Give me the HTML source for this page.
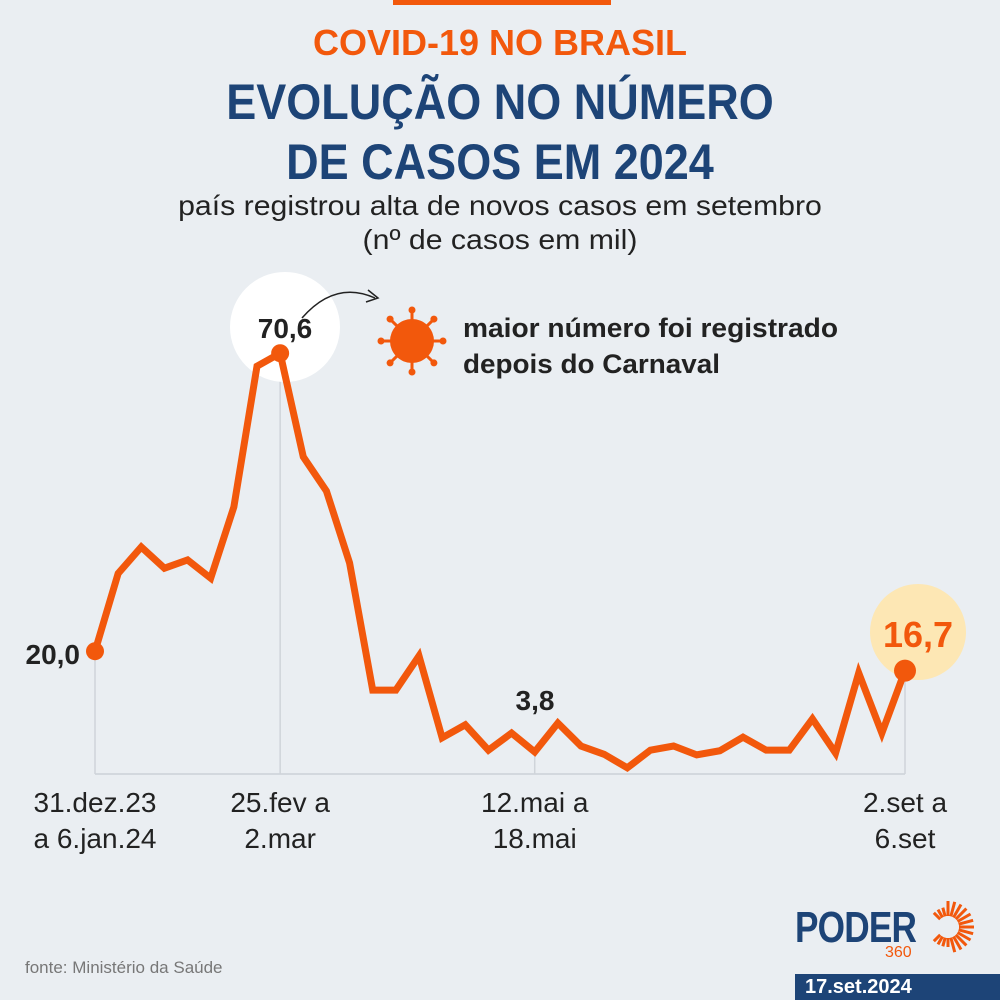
<!DOCTYPE html>
<html><head><meta charset="utf-8"><style>
body{margin:0;width:1000px;height:1000px;background:#eaeef2;font-family:"Liberation Sans",sans-serif;position:relative;overflow:hidden}
.t{position:absolute;left:0;width:1000px;text-align:center}
</style></head><body>
<div style="position:absolute;left:393px;top:0;width:218px;height:5px;background:#f2580c"></div>
<div class="t" style="top:22px;font-size:36px;font-weight:bold;color:#f2580c">COVID-19 NO BRASIL</div>
<div class="t" style="top:72px;font-size:50px;line-height:60px;font-weight:bold;color:#1d4477;transform:scaleX(0.9)">EVOLUÇÃO NO NÚMERO<br>DE CASOS EM 2024</div>
<div class="t" style="top:189px;font-size:28px;line-height:34px;color:#222;transform:scaleX(1.08)">país registrou alta de novos casos em setembro<br>(nº de casos em mil)</div>
<svg id="chart" width="1000" height="1000" style="position:absolute;left:0;top:0"></svg>
<div style="position:absolute;left:25px;top:958px;font-size:17px;color:#777">fonte: Ministério da Saúde</div>
<div style="position:absolute;left:795px;top:903px;font-size:44px;font-weight:bold;color:#1d4477;letter-spacing:-1px;transform:scaleX(0.8);transform-origin:left">PODER</div>
<div style="position:absolute;left:885px;top:944px;font-size:16px;color:#f2580c">360</div>
<div style="position:absolute;left:795px;top:974px;width:205px;height:26px;background:#1d4477;color:#fff;font-size:20px;font-weight:bold;line-height:26px;padding-left:10px;box-sizing:border-box">17.set.2024</div>
<script>
const weeks=["31.dez","7.jan","14.jan","21.jan","28.jan","4.fev","11.fev","18.fev","25.fev","3.mar","10.mar","17.mar","24.mar","31.mar","7.abr","14.abr","21.abr","28.abr","5.mai","12.mai","19.mai","26.mai","2.jun","9.jun","16.jun","23.jun","30.jun","7.jul","14.jul","21.jul","28.jul","4.ago","11.ago","18.ago","25.ago","2.set"];
const cases=[20.0,33.2,37.7,34.1,35.5,32.4,44.5,68.4,70.6,53.0,47.2,35.0,13.4,13.4,19.2,5.3,7.5,3.2,6.1,2.9,7.8,3.9,2.5,0.2,3.2,3.9,2.4,3.1,5.4,3.2,3.2,8.5,2.7,16.3,6.1,16.7];
const tickIdx=[0,8,19,35];
const tickLabels=[["31.dez.23","a 6.jan.24"],["25.fev a","2.mar"],["12.mai a","18.mai"],["2.set a","6.set"]];
const ns="http://www.w3.org/2000/svg",svg=document.getElementById('chart');
const x=i=>95+i*(810/(weeks.length-1));
const y=v=>769-v*5.889;
function mk(t,a){const e=document.createElementNS(ns,t);for(const k in a)e.setAttribute(k,a[k]);svg.appendChild(e);return e;}
let e=mk('line',{x1:95,x2:905,y1:774,y2:774,stroke:'#d3d8de','stroke-width':2});

tickIdx.forEach((ti,k)=>{
 let l=mk('line',{x1:x(ti),x2:x(ti),y1:y(cases[ti]),y2:774,stroke:'#cfd4da','stroke-width':1.5});
 
 tickLabels[k].forEach((s,j)=>{let t=mk('text',{x:x(ti),y:812+j*36,'text-anchor':'middle','font-size':28,fill:'#222'});t.textContent=s;
 });
});
let c1=mk('circle',{cx:285,cy:327,r:55,fill:'#fff'});
let c2=mk('circle',{cx:918,cy:632,r:48,fill:'#fde7b4'});
let p=mk('polyline',{points:cases.map((v,i)=>x(i)+','+y(v)).join(' '),fill:'none',stroke:'#f2580c','stroke-width':7,'stroke-linejoin':'miter'});

[0,8,35].forEach(i=>{let d=mk('circle',{cx:x(i),cy:y(cases[i]),r:i==35?11:9,fill:'#f2580c'});
});
function lab(s,X,Y,col,fs,anc,n,tl){let t=mk('text',{x:X,y:Y,'text-anchor':anc,'font-size':fs,'font-weight':'bold',fill:col});if(tl){t.setAttribute('textLength',tl);t.setAttribute('lengthAdjust','spacingAndGlyphs');}t.textContent=s;
}
lab('20,0',80,664,'#222',28,'end','first-value');
lab('70,6',285,338,'#222',28,'middle','peak-value');
lab('3,8',535,710,'#222',28,'middle','may-value');
lab('16,7',918,647,'#f2580c',36,'middle','last-value');
let ar=mk('path',{d:'M302 318 Q335 280 375 298',fill:'none',stroke:'#222','stroke-width':1.5});
let ah=mk('path',{d:'M368 290 L378 298 L366 302',fill:'none',stroke:'#222','stroke-width':1.5});
const vg=mk('g',{});
for(let k=0;k<8;k++){const a=k*Math.PI/4,cx=412,cy=341;
 const l=document.createElementNS(ns,'line');l.setAttribute('x1',cx+Math.cos(a)*20);l.setAttribute('y1',cy+Math.sin(a)*20);l.setAttribute('x2',cx+Math.cos(a)*30);l.setAttribute('y2',cy+Math.sin(a)*30);l.setAttribute('stroke','#f2580c');l.setAttribute('stroke-width',3);vg.appendChild(l);
 const b=document.createElementNS(ns,'circle');b.setAttribute('cx',cx+Math.cos(a)*31);b.setAttribute('cy',cy+Math.sin(a)*31);b.setAttribute('r',3.5);b.setAttribute('fill','#f2580c');vg.appendChild(b);}
const vb=document.createElementNS(ns,'circle');vb.setAttribute('cx',412);vb.setAttribute('cy',341);vb.setAttribute('r',22);vb.setAttribute('fill','#f2580c');vg.appendChild(vb);
lab('maior número foi registrado',463,337,'#222',27,'start','annotation-line1',375);
lab('depois do Carnaval',463,373,'#222',27,'start','annotation-line2',257);
const sg=mk('g',{});
for(let k=0;k<24;k++){const a=-Math.PI/2+k*Math.PI*2/24;if(k>=16&&k<=20)continue;
 const l=document.createElementNS(ns,'line');l.setAttribute('x1',948+Math.cos(a)*11);l.setAttribute('y1',927+Math.sin(a)*11);l.setAttribute('x2',948+Math.cos(a)*(k<12?26:20));l.setAttribute('y2',927+Math.sin(a)*(k<12?26:20));l.setAttribute('stroke','#f2580c');l.setAttribute('stroke-width',3);sg.appendChild(l);}
</script>
</body></html>
